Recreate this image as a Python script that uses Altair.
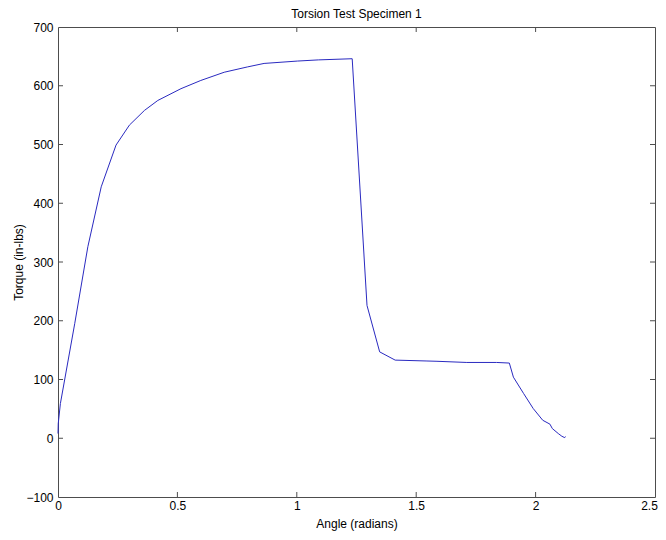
import altair as alt
import pandas as pd

angle = [0.0, 0.001, 0.01, 0.07, 0.125, 0.181, 0.243, 0.299, 0.362, 0.418, 0.515, 0.598,
         0.696, 0.793, 0.863, 1.002, 1.09, 1.232, 1.294, 1.347, 1.412, 1.545, 1.587,
         1.712, 1.837, 1.89, 1.907, 1.95, 1.99, 2.03, 2.06, 2.07, 2.095, 2.11, 2.122, 2.125]
torque = [8, 25, 59, 195, 326, 428, 499, 533, 558, 575, 595, 609,
          623, 632, 638, 642, 644, 646, 226, 147, 133, 131.5, 131,
          129, 129, 128, 104, 76, 50.6, 30.6, 24, 16.5, 8, 3.4, 1, 3]

x_ticks = [0, 0.5, 1, 1.5, 2, 2.5]
y_ticks = [-100, 0, 100, 200, 300, 400, 500, 600, 700]

W, H = 597, 470
FONT = "Liberation Sans"
AX = "#4d4d4d"
TL = 5

df = pd.DataFrame({"angle": angle, "torque": torque, "i": range(len(angle))})
xt = pd.DataFrame({"v": x_ticks[1:-1]})
yt = pd.DataFrame({"v": y_ticks[1:-1]})

xs = alt.Scale(domain=[0, 2.5], nice=False, zero=False)
ys = alt.Scale(domain=[-100, 700], nice=False, zero=False)

line = alt.Chart(df).mark_line(color="#2a2ac0", strokeWidth=1).encode(
    x=alt.X("angle:Q", scale=xs,
            axis=alt.Axis(values=x_ticks, format="~g", title="Angle (radians)",
                          grid=False, domain=False, ticks=False, labelPadding=3,
                          titleY=26, titleBaseline="middle", labelFlush=False,
                          labelOffset={"condition": {"test": "datum.value >= 2.5", "value": -6},
                                       "value": 0})),
    y=alt.Y("torque:Q", scale=ys,
            axis=alt.Axis(values=y_ticks, format="d", title="Torque (in-lbs)",
                          grid=False, domain=False, ticks=False, labelPadding=5,
                          titleX=-40, titleY=H / 2, titleBaseline="middle",
                          labelFlush=False)),
    order="i:Q",
)

xb = alt.Chart(xt).mark_rule(color=AX).encode(
    x=alt.X("v:Q", scale=xs), y=alt.value(H - TL), y2=alt.value(H))
xtop = alt.Chart(xt).mark_rule(color=AX).encode(
    x=alt.X("v:Q", scale=xs), y=alt.value(0), y2=alt.value(TL))
yl = alt.Chart(yt).mark_rule(color=AX).encode(
    y=alt.Y("v:Q", scale=ys), x=alt.value(0), x2=alt.value(TL))
yr = alt.Chart(yt).mark_rule(color=AX).encode(
    y=alt.Y("v:Q", scale=ys), x=alt.value(W - TL), x2=alt.value(W))

chart = alt.layer(line, xb, xtop, yl, yr).properties(
    width=W, height=H,
    title=alt.Title("Torsion Test Specimen 1", fontSize=12, fontWeight="normal",
                    font=FONT, color="#000", offset=0, anchor="middle"),
    autosize=alt.AutoSizeParams(type="none"),
    padding={"left": 50, "top": 19, "right": 3, "bottom": 35},
).configure_view(stroke=AX, strokeWidth=1).configure_axis(
    labelFont=FONT, titleFont=FONT, labelFontSize=12, titleFontSize=12,
    labelColor="#000", titleColor="#000", titleFontWeight="normal",
)

chart.save("out.html", embed_options={"renderer": "svg", "actions": False})
